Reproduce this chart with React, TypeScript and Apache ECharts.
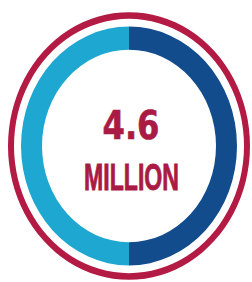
import React, { useEffect, useRef } from "react";
import * as echarts from "echarts";

const segmentNames = ["Group A", "Group B"];
const segmentValues = [2.3, 2.3];
const segmentColors = ["#124C8C", "#1DA7D1"];
const headline = "4.6";
const unitLabel = "MILLION";

export default function App() {
  const ref = useRef<HTMLDivElement>(null);
  useEffect(() => {
    if (!ref.current) return;
    const chart = echarts.init(ref.current, undefined, { renderer: "svg" });
    chart.setOption({
      animation: false,
      backgroundColor: "#ffffff",
      series: [
        {
          type: "pie",
          center: [129, 132],
          radius: [115, 121],
          silent: true,
          label: { show: false },
          labelLine: { show: false },
          itemStyle: { color: "#B31B45" },
          data: [{ name: "outline", value: 1 }],
        },
        {
          type: "pie",
          center: [129, 132],
          radius: [87, 108],
          startAngle: 90,
          clockwise: true,
          silent: true,
          label: { show: false },
          labelLine: { show: false },
          data: segmentNames.map((n, i) => ({
            name: n,
            value: segmentValues[i],
            itemStyle: { color: segmentColors[i] },
          })),
        },
      ],
      graphic: [
        {
          type: "text",
          x: 131,
          y: 113.5,
          scaleX: 0.92,
          style: {
            text: headline,
            textAlign: "center",
            textVerticalAlign: "middle",
            fontFamily: "DejaVu Sans",
            fontWeight: "bold",
            fontSize: 35,
            fill: "#A91A44",
            stroke: "#A91A44",
            lineWidth: 0.6,
          },
        },
        {
          type: "text",
          x: 131.5,
          y: 160,
          scaleX: 0.7,
          style: {
            text: unitLabel,
            textAlign: "center",
            textVerticalAlign: "middle",
            fontFamily: "Liberation Sans",
            fontWeight: "bold",
            fontSize: 33,
            fill: "#A91A44",
            stroke: "#A91A44",
            lineWidth: 0.8,
          },
        },
      ],
    });
    return () => chart.dispose();
  }, []);
  return (
    <div
      ref={ref}
      style={{
        position: "absolute",
        left: 0,
        top: 0,
        width: 252,
        height: 255,
        transform: "scaleY(1.106)",
        transformOrigin: "0 0",
      }}
    />
  );
}
